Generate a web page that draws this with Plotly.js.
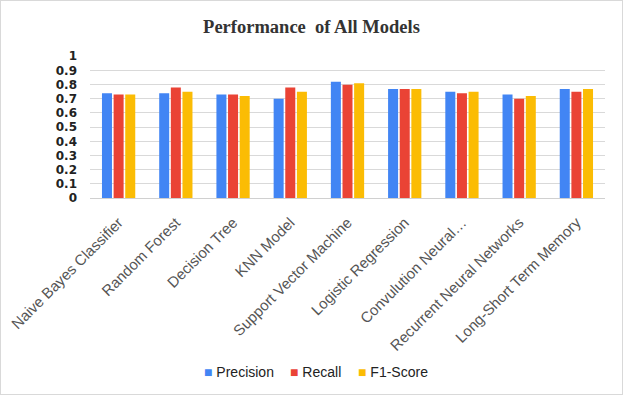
<!DOCTYPE html>
<html>
<head>
<meta charset="utf-8">
<script src="https://cdn.plot.ly/plotly-3.0.1.min.js"></script>
<style>
html,body{margin:0;padding:0;background:#fff;}
#wrap{position:relative;width:623px;height:395px;}
#chart{position:absolute;left:0;top:0;width:623px;height:395px;}
#frame{position:absolute;left:0;top:0;width:623px;height:395px;box-sizing:border-box;border:1px solid #d9d9d9;pointer-events:none;}
</style>
</head>
<body>
<div id="wrap"><div id="chart"></div><div id="frame"></div></div>
<script>
const models = ["Naive Bayes Classifier","Random Forest","Decision Tree","KNN Model","Support Vector Machine","Logistic Regression","Convulution Neural…","Recurrent Neural Networks","Long-Short Term Memory"];
const seriesNames = ["Precision","Recall","F1-Score"];
const seriesColors = ["#4285f4","#ea4335","#fbbc04"];
const precision = [0.74,0.74,0.73,0.70,0.82,0.77,0.75,0.73,0.77];
const recall    = [0.73,0.78,0.73,0.78,0.80,0.77,0.74,0.70,0.75];
const f1score   = [0.73,0.75,0.72,0.75,0.81,0.77,0.75,0.72,0.77];
const yTicks = [0,0.1,0.2,0.3,0.4,0.5,0.6,0.7,0.8,0.9,1];
const yTickText = ["0","0.1","0.2","0.3","0.4","0.5","0.6","0.7","0.8","0.9","1"];

const values = [precision, recall, f1score];
const traces = seriesNames.map((n,i)=>({type:'bar', name:n, x:models, y:values[i], marker:{color:seriesColors[i]}}));

// legend entries placed as a centered row below the plot
const legendX = [0.2175, 0.3845, 0.5165];
const legendAnn = seriesNames.map((n,i)=>({
  xref:'paper', yref:'paper', x:legendX[i], y:-1.225, xanchor:'left', yanchor:'middle', showarrow:false,
  text:'<span style="color:'+seriesColors[i]+'">■</span> '+n,
  font:{family:'Liberation Sans, Arial, sans-serif', size:14, color:'#222'}
}));

const layout = {
  width:623, height:395,
  margin:{l:90, r:18, t:56, b:197, pad:0},
  paper_bgcolor:'#fff', plot_bgcolor:'#fff',
  barmode:'group', bargap:0.39, bargroupgap:0.14,
  title:{text:'<b>Performance  of All Models</b>', x:0.5, xanchor:'center', y:0.932, yanchor:'middle',
         font:{family:'Liberation Serif, Times New Roman, serif', size:18.5, color:'#333'}},
  xaxis:{type:'category', tickangle:-45, showgrid:false, showline:true, linecolor:'#d0d0d0', linewidth:1,
         ticks:'', ticklabelstandoff:9,
         tickfont:{family:'Liberation Sans, Arial, sans-serif', size:15, color:'#555'}, automargin:false},
  yaxis:{range:[0,1.002], tickvals:yTicks, ticktext:yTickText, showgrid:true, gridcolor:'#d9d9d9', gridwidth:1,
         zeroline:false, showline:false, ticks:'', ticklabelstandoff:12,
         tickfont:{family:'DejaVu Sans, sans-serif', size:12, color:'#222', weight:'bold'}, automargin:false},
  showlegend:false,
  annotations:legendAnn
};
Plotly.newPlot('chart', traces, layout, {displayModeBar:false, staticPlot:true});
</script>
</body>
</html>
